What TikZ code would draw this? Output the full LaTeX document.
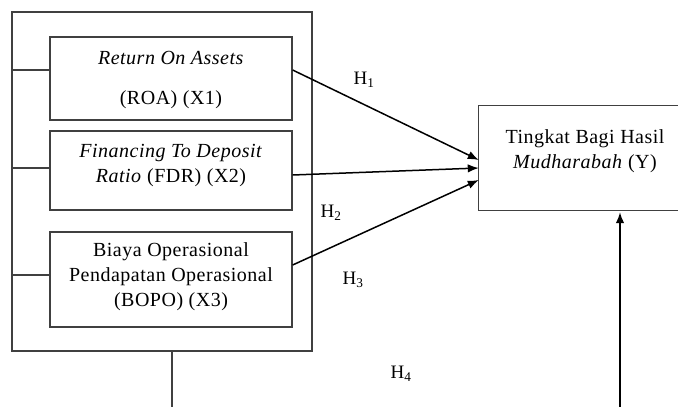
\documentclass[tikz,border=0pt]{standalone}
\usepackage{fontspec}
\setmainfont{Liberation Serif}
\usetikzlibrary{arrows.meta}
\begin{document}
\begin{tikzpicture}[x=1pt,y=-1pt,
  box/.style={draw=black!75, line width=1.3pt, inner sep=0pt},
  txt/.style={align=center, font=\fontsize{20}{25}\selectfont\addfontfeature{LetterSpace=2.5}, inner sep=0pt},
  lbl/.style={font=\fontsize{19}{20}\selectfont, inner sep=0pt},
  stub/.style={draw=black!75, line width=1.3pt},
  arr/.style={draw=black, line width=1.5pt, -{Latex[length=11pt,width=8.5pt]}}]
\useasboundingbox (0,0) rectangle (678,407);
% outer group box
\node[box, minimum width=300, minimum height=339] (outer) at (162,181.5) {};
% inner boxes
\node[box, minimum width=242, minimum height=83] (b1) at (171,78.5) {};
\node[box, minimum width=242, minimum height=79] (b2) at (171,170.5) {};
\node[box, minimum width=242, minimum height=95] (b3) at (171,279.5) {};
\node[txt] (t1) at (171,80) {\textit{Return On Assets}\\[15pt](ROA) (X1)};
\node[txt] (t2) at (171,166) {\textit{Financing To Deposit}\\\textit{Ratio} (FDR) (X2)};
\node[txt] (t3) at (171,277) {Biaya Operasional\\Pendapatan Operasional\\(BOPO) (X3)};
% dependent variable box (right side runs off the page)
\node[inner sep=0pt, minimum width=199, minimum height=104] (yb) at (578.5,158) {};
\draw[black!75, line width=1.3pt] (yb.north east) -- (yb.north west) -- (yb.south west) -- (yb.south east);
\node[txt] (ty) at (585,151.5) {Tingkat Bagi Hasil\\\textit{Mudharabah} (Y)};
% stubs on the left
\draw[stub] (b1.west |- 0,70) -- (outer.west |- 0,70);
\draw[stub] (b2.west |- 0,168) -- (outer.west |- 0,168);
\draw[stub] (b3.west |- 0,275) -- (outer.west |- 0,275);
% bottom line and upward arrow
\coordinate (bot1) at (172,407);
\coordinate (bot2) at (620,407);
\draw[stub] (outer.south -| 172,0) -- (bot1);
\draw[arr, shorten >=2pt] (bot2) -- (yb.south -| 620,0);
% hypothesis arrows
\draw[arr] (b1.east |- 0,70) -- (yb.west |- 0,160);
\draw[arr] (b2.east |- 0,175) -- (yb.west |- 0,168);
\draw[arr] (b3.east |- 0,265) -- (yb.west |- 0,180);
% labels
\node[lbl] (h1) at (364,80) {H\textsubscript{1}};
\node[lbl] (h2) at (331,213) {H\textsubscript{2}};
\node[lbl] (h3) at (353,280) {H\textsubscript{3}};
\node[lbl] (h4) at (401,374) {H\textsubscript{4}};
\end{tikzpicture}
\end{document}
